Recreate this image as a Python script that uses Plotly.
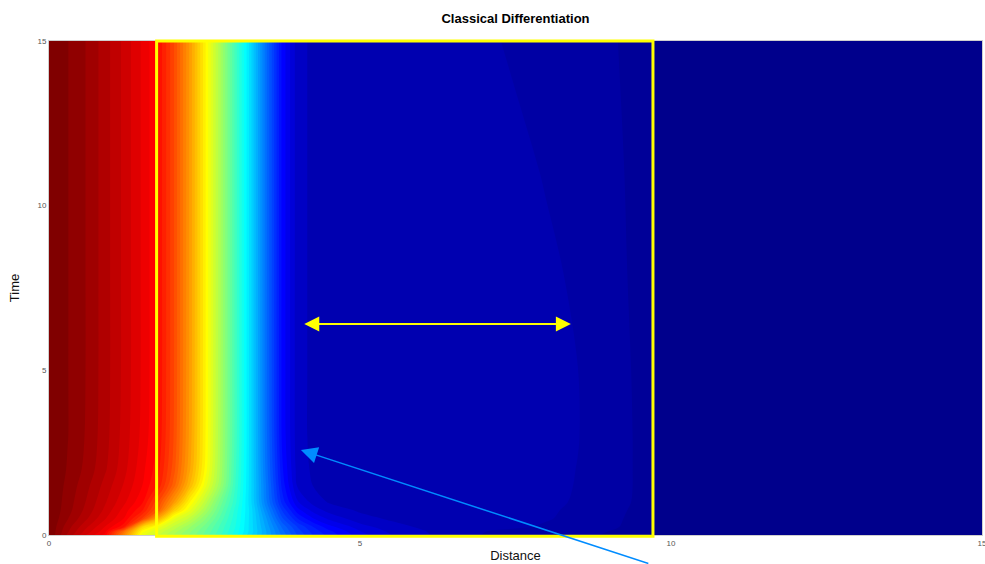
import plotly.graph_objects as go

# ---- data ----
distance = [0, 0.3, 0.6, 0.9, 1.2, 1.5, 1.75, 2.0, 2.25, 2.5, 2.75, 3.0, 3.25, 3.5, 3.75,
            4.0, 4.25, 4.5, 5.0, 5.5, 6.0, 6.5, 7.0, 7.5, 8.0, 8.5, 9.0, 9.5, 9.75, 10, 15]
time = [0, 0.1, 0.25, 0.5, 0.75, 1.0, 1.5, 2, 3, 5, 8, 11, 15]

c_t0 = [1.0, 0.95, 0.905, 0.87, 0.74, 0.60, 0.565, 0.53, 0.50, 0.465, 0.425, 0.38, 0.33, 0.28, 0.23,
        0.185, 0.155, 0.135, 0.10, 0.078, 0.065, 0.055, 0.046, 0.042, 0.038, 0.034, 0.030, 0.023, 0.011, 0.004, 0.0]
c_t01 = [1.0, 0.955, 0.915, 0.88, 0.76, 0.615, 0.575, 0.54, 0.505, 0.47, 0.43, 0.385, 0.335, 0.28, 0.225,
         0.18, 0.15, 0.13, 0.095, 0.075, 0.064, 0.054, 0.047, 0.043, 0.039, 0.035, 0.031, 0.024, 0.011, 0.004, 0.0]
c_t025 = [1.0, 0.96, 0.925, 0.89, 0.85, 0.66, 0.605, 0.56, 0.52, 0.48, 0.435, 0.39, 0.335, 0.275, 0.215,
          0.17, 0.14, 0.115, 0.085, 0.068, 0.06, 0.055, 0.051, 0.049, 0.045, 0.04, 0.034, 0.026, 0.011, 0.004, 0.0]
c_t05 = [1.0, 0.97, 0.94, 0.908, 0.875, 0.81, 0.70, 0.60, 0.56, 0.505, 0.45, 0.395, 0.335, 0.265, 0.19,
         0.14, 0.11, 0.09, 0.068, 0.06, 0.058, 0.056, 0.054, 0.051, 0.048, 0.043, 0.035, 0.027, 0.012, 0.005, 0.0]
c_t075 = [1.0, 0.975, 0.948, 0.918, 0.885, 0.845, 0.78, 0.67, 0.60, 0.535, 0.465, 0.40, 0.335, 0.25, 0.17,
          0.115, 0.088, 0.072, 0.06, 0.058, 0.057, 0.056, 0.054, 0.052, 0.049, 0.044, 0.036, 0.028, 0.012, 0.005, 0.0]
c_t1 = [1.0, 0.977, 0.952, 0.924, 0.895, 0.862, 0.80, 0.72, 0.63, 0.56, 0.48, 0.41, 0.33, 0.235, 0.15,
        0.095, 0.072, 0.061, 0.059, 0.058, 0.057, 0.056, 0.055, 0.053, 0.051, 0.045, 0.037, 0.029, 0.012, 0.005, 0.0]
c_t15 = [1.0, 0.98, 0.958, 0.932, 0.905, 0.875, 0.84, 0.775, 0.69, 0.605, 0.52, 0.42, 0.33, 0.23, 0.135,
         0.075, 0.062, 0.059, 0.058, 0.057, 0.057, 0.056, 0.055, 0.054, 0.052, 0.046, 0.037, 0.0295, 0.012, 0.005, 0.0]
c_t2 = [1.0, 0.983, 0.964, 0.94, 0.912, 0.88, 0.85, 0.79, 0.71, 0.625, 0.53, 0.425, 0.33, 0.225, 0.128,
        0.07, 0.06, 0.058, 0.057, 0.057, 0.056, 0.056, 0.055, 0.054, 0.052, 0.0465, 0.037, 0.0295, 0.012, 0.005, 0.0]
c_t3 = [1.0, 0.985, 0.967, 0.944, 0.916, 0.886, 0.858, 0.798, 0.718, 0.631, 0.534, 0.43, 0.33, 0.221, 0.121,
        0.068, 0.059, 0.057, 0.057, 0.057, 0.056, 0.056, 0.055, 0.054, 0.052, 0.0475, 0.037, 0.0295, 0.012, 0.005, 0.0]
c_t5 = [1.0, 0.985, 0.968, 0.945, 0.918, 0.888, 0.86, 0.80, 0.72, 0.632, 0.535, 0.43, 0.33, 0.22, 0.12,
        0.068, 0.059, 0.057, 0.056, 0.056, 0.055, 0.055, 0.054, 0.052, 0.0505, 0.047, 0.037, 0.029, 0.012, 0.005, 0.0]
c_t8 = [1.0, 0.985, 0.968, 0.945, 0.918, 0.888, 0.86, 0.80, 0.72, 0.632, 0.535, 0.43, 0.33, 0.22, 0.12,
        0.068, 0.059, 0.057, 0.056, 0.055, 0.055, 0.054, 0.053, 0.051, 0.049, 0.045, 0.036, 0.028, 0.012, 0.005, 0.0]
c_t11 = [1.0, 0.985, 0.968, 0.945, 0.918, 0.888, 0.86, 0.80, 0.72, 0.632, 0.535, 0.43, 0.33, 0.22, 0.12,
         0.068, 0.059, 0.057, 0.056, 0.055, 0.054, 0.053, 0.052, 0.050, 0.046, 0.041, 0.0345, 0.028, 0.012, 0.005, 0.0]
c_t15b = [1.0, 0.985, 0.968, 0.945, 0.918, 0.888, 0.86, 0.80, 0.72, 0.632, 0.535, 0.43, 0.33, 0.22, 0.12,
          0.068, 0.059, 0.057, 0.056, 0.055, 0.054, 0.052, 0.049, 0.045, 0.042, 0.038, 0.033, 0.027, 0.012, 0.005, 0.0]

concentration = [c_t0, c_t01, c_t025, c_t05, c_t075, c_t1, c_t15, c_t2, c_t3, c_t5, c_t8, c_t11, c_t15b]

x_ticks = [0, 5, 10, 15]
y_ticks = [0, 5, 10, 15]
x_range = [0, 15]
y_range = [0, 15]

# annotation geometry (data units)
box_x = [1.73, 9.71]
box_y = [-0.04, 15]
span_x = [4.08, 8.39]
span_y = 6.41
pointer_tip = [4.05, 2.58]
pointer_tail = [9.66, -0.88]

jet = [[0.0, 'rgb(0,0,128)'], [1 / 64, 'rgb(0,0,140)'], [2 / 64, 'rgb(0,0,152)'],
       [3 / 64, 'rgb(0,0,164)'], [4 / 64, 'rgb(0,0,176)'], [0.125, 'rgb(0,0,255)'],
       [0.375, 'rgb(0,255,255)'], [0.625, 'rgb(255,255,0)'], [0.875, 'rgb(255,0,0)'],
       [1.0, 'rgb(128,0,0)']]

FONT = 'Liberation Sans, Arial, Helvetica, sans-serif'

fig = go.Figure()
fig.add_trace(go.Contour(
    x=distance, y=time, z=concentration,
    colorscale=jet, showscale=False,
    contours=dict(start=0, end=63 / 64, size=1 / 64, coloring='fill', showlines=False),
    line=dict(width=0, smoothing=1),
    hoverinfo='skip',
))

W, H = 985, 564
ml, mr, mt, mb = 49, 3, 41, 29


def px(v):
    return (v - x_range[0]) / (x_range[1] - x_range[0])


def py(v):
    return (v - y_range[0]) / (y_range[1] - y_range[0])


fig.add_shape(type='rect', xref='paper', yref='paper',
              x0=px(box_x[0]), x1=px(box_x[1]), y0=py(box_y[0]), y1=py(box_y[1]),
              line=dict(color='rgb(255,255,0)', width=3), fillcolor='rgba(0,0,0,0)', layer='above')

fig.add_annotation(x=span_x[1], y=span_y, ax=span_x[0], ay=span_y, xref='x', yref='y', axref='x', ayref='y',
                   showarrow=True, arrowhead=2, startarrowhead=2, arrowside='end+start',
                   arrowsize=1.5, startarrowsize=1.5, arrowwidth=2, arrowcolor='rgb(255,255,0)', text='')

fig.add_annotation(x=pointer_tip[0], y=pointer_tip[1], ax=pointer_tail[0], ay=pointer_tail[1],
                   xref='x', yref='y', axref='x', ayref='y',
                   showarrow=True, arrowhead=2, arrowsize=2.2, arrowwidth=1.5,
                   arrowcolor='rgb(0,140,255)', text='')

fig.update_layout(
    width=W, height=H,
    margin=dict(l=ml, r=mr, t=mt, b=mb, autoexpand=False),
    paper_bgcolor='white', plot_bgcolor='white',
    font=dict(family=FONT, color='#000'),
    title=dict(text='<b>Classical Differentiation</b>', xref='paper', x=0.5, xanchor='center',
               yref='container', y=1 - 18 / H, yanchor='middle', font=dict(size=13, color='#000')),
    showlegend=False,
    xaxis=dict(range=x_range, tickvals=x_ticks, ticks='', showgrid=False, zeroline=False,
               showline=True, mirror=True, linecolor='#cfcfcf', linewidth=1,
               ticklabeloverflow='allow', automargin=False,
               tickfont=dict(size=8, color='#555'),
               title=dict(text='Distance', font=dict(size=13, color='#111'), standoff=4)),
    yaxis=dict(range=y_range, tickvals=y_ticks, ticks='', showgrid=False, zeroline=False,
               showline=True, mirror=True, linecolor='#cfcfcf', linewidth=1,
               ticklabeloverflow='allow', automargin=False,
               tickfont=dict(size=8, color='#555'),
               title=dict(text='Time', font=dict(size=13, color='#111'), standoff=14)),
)

fig.write_html('out.html')
